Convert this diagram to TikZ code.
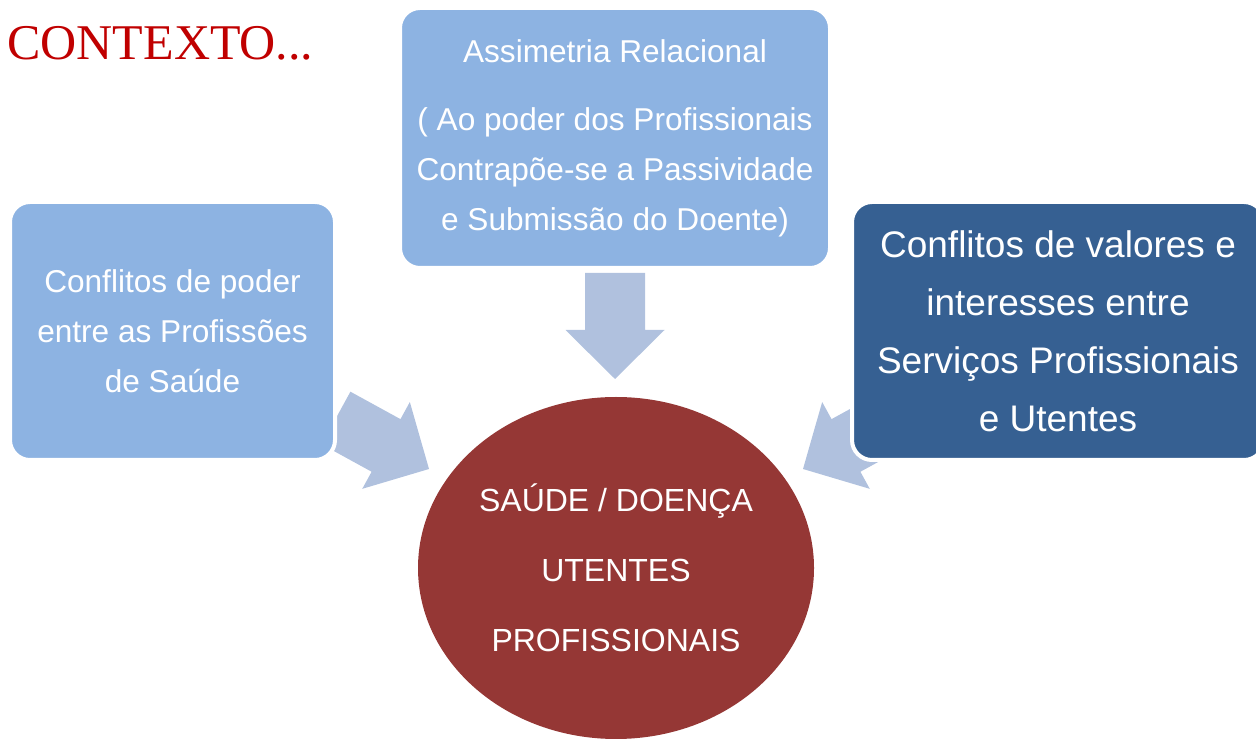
\documentclass[tikz,border=0pt]{standalone}
\usepackage{fontspec}
\setmainfont{Liberation Sans}
\newfontfamily\titlefont{Liberation Serif}
\usetikzlibrary{calc,shapes.geometric}
\definecolor{boxblue}{RGB}{141,179,226}
\definecolor{darkblue}{RGB}{54,96,146}
\definecolor{wine}{RGB}{149,55,53}
\definecolor{arrowblue}{RGB}{176,193,222}
\definecolor{titlered}{RGB}{192,0,0}
\tikzset{box/.style={rounded corners=10pt,draw=white,line width=2pt,text=white,align=center,inner sep=0pt}}
\tikzset{lightbox/.style={box,fill=boxblue,font=\fontsize{15.8}{25}\selectfont}}
\tikzset{darkbox/.style={box,fill=darkblue,font=\fontsize{18.5}{29}\selectfont}}
\tikzset{core/.style={ellipse,fill=wine,text=white,align=center,inner sep=0pt,font=\fontsize{16}{35}\selectfont}}
\tikzset{blockarrow/.style={fill=arrowblue,to path={%
  -- ($(\tikztostart)!15pt!90:(\tikztotarget)$)
  -- ($(\tikztotarget)!24.5pt!(\tikztostart)!15pt!90:(\tikztotarget)$)
  -- ($(\tikztotarget)!24.5pt!(\tikztostart)!24.75pt!90:(\tikztotarget)$)
  -- (\tikztotarget)
  -- ($(\tikztotarget)!24.5pt!(\tikztostart)!24.75pt!-90:(\tikztotarget)$)
  -- ($(\tikztotarget)!24.5pt!(\tikztostart)!15pt!-90:(\tikztotarget)$)
  -- ($(\tikztostart)!15pt!-90:(\tikztotarget)$) -- cycle}}}

\begin{document}
\begin{tikzpicture}[x=0.5pt,y=0.5pt]
  \useasboundingbox (0,0) rectangle (1256,738);
  % arrow ends
  \coordinate (topTail) at (615,465);
  \coordinate (topTip) at (615,359);
  \coordinate (leftTail) at (336,320);
  \coordinate (leftTip) at (429,269);
  \coordinate (rightTail) at (896,320);
  \coordinate (rightTip) at (803,269);
  \path[blockarrow] (topTail) to (topTip);
  \path[blockarrow] (leftTail) to (leftTip);
  \path[blockarrow] (rightTail) to (rightTip);
  % boxes
  \node[lightbox,minimum width=215pt,minimum height=130pt] (relacional) at (615,600)
    {Assimetria Relacional\\[9pt]( Ao poder dos Profissionais\\Contrapõe-se a Passividade\\e Submissão do Doente)};
  \node[lightbox,minimum width=162.5pt,minimum height=129pt] (poder) at (172.5,407)
    {Conflitos de poder\\entre as Profissões\\de Saúde};
  \node[darkbox,minimum width=206pt,minimum height=129pt] (valores) at (1058,407)
    {Conflitos de valores e\\interesses entre\\Serviços Profissionais\\e Utentes};
  \node[core,minimum width=198pt,minimum height=171pt] (saude) at (616,170)
    {SAÚDE / DOENÇA\\UTENTES\\PROFISSIONAIS};
  \node[anchor=base west,inner sep=0pt,text=titlered,font=\titlefont\fontsize{25}{30}\selectfont] (titulo) at (7,678) {CONTEXTO...};
\end{tikzpicture}
\end{document}
